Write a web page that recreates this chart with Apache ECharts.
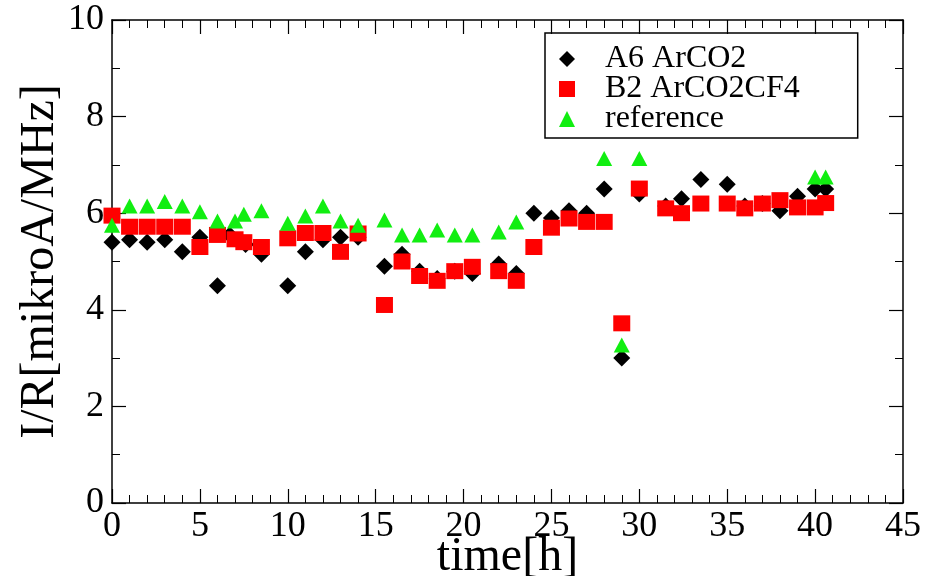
<!DOCTYPE html>
<html>
<head>
<meta charset="utf-8">
<script src="https://cdn.jsdelivr.net/npm/echarts@6/dist/echarts.min.js"></script>
<style>
html,body{margin:0;padding:0;background:#fff;}
#chart{width:937px;height:576px;}
</style>
</head>
<body>
<div id="chart"></div>
<script>
// ---- data ----
const seriesNames = ['A6 ArCO2', 'B2 ArCO2CF4', 'reference'];
const xTicks = [0, 5, 10, 15, 20, 25, 30, 35, 40, 45];
const yTicks = [0, 2, 4, 6, 8, 10];

const timeA6 = [0,1,2,3,4,5,6,6.7,7.6,8.5,10,11,12,13,14,15.5,16.5,17.5,18.5,19.5,20.5,22,23,24,25,26,27,28,29,30,31.5,32.4,33.5,35,36,37,38,39,40,40.6];
const valA6  = [5.4,5.45,5.4,5.45,5.2,5.5,4.5,5.55,5.35,5.15,4.5,5.2,5.45,5.5,5.5,4.9,5.15,4.8,4.65,4.8,4.75,4.95,4.75,6.0,5.9,6.05,6.0,6.5,3.0,6.4,6.15,6.3,6.7,6.6,6.15,6.2,6.05,6.35,6.5,6.5];

const timeB2 = [0,1,2,3,4,5,6,7,7.5,8.5,10,11,12,13,14,15.5,16.5,17.5,18.5,19.5,20.5,22,23,24,25,26,27,28,29,30,31.5,32.4,33.5,35,36,37,38,39,40,40.6];
const valB2  = [5.95,5.72,5.72,5.72,5.72,5.3,5.55,5.46,5.4,5.3,5.48,5.59,5.59,5.2,5.58,4.1,5.0,4.7,4.6,4.8,4.89,4.8,4.6,5.3,5.7,5.89,5.82,5.82,3.72,6.51,6.1,6.0,6.2,6.2,6.1,6.2,6.27,6.12,6.12,6.21];

const timeRef = [0,1,2,3,4,5,6,7,7.5,8.5,10,11,12,13,14,15.5,16.5,17.5,18.5,19.5,20.5,22,23,28,29,30,40,40.6];
const valRef  = [5.75,6.15,6.15,6.24,6.15,6.03,5.84,5.84,5.98,6.05,5.79,5.94,6.15,5.84,5.75,5.86,5.55,5.55,5.65,5.55,5.55,5.61,5.82,7.13,3.27,7.13,6.75,6.75];

const zip = (t, v) => t.map((x, i) => [x, v[i]]);

const FONT = "'Liberation Serif', 'DejaVu Serif', serif";
const axisLine = { lineStyle: { color: '#000', width: 1.5 } };
const tick = { show: true, inside: true, length: 14, lineStyle: { color: '#000', width: 1.2 } };

function xAxisCfg(pos, showLabel) {
  return {
    type: 'value', position: pos, min: 0, max: 45, interval: 5,
    axisLine: Object.assign({ onZero: false }, axisLine),
    axisTick: tick,
    minorTick: { show: true, splitNumber: 5, length: 8, lineStyle: { color: '#000', width: 1 } },
    splitLine: { show: false }, minorSplitLine: { show: false },
    axisLabel: { show: showLabel, fontSize: 36, fontFamily: FONT, color: '#000', margin: 6,
      formatter: v => (xTicks.indexOf(v) >= 0 ? String(v) : '') },
    name: showLabel ? 'time[h]' : '',
    nameLocation: 'middle', nameGap: 30, nameMoveOverlap: false,
    nameTextStyle: { fontSize: 48, fontFamily: FONT, color: '#000' }
  };
}
function yAxisCfg(pos, showLabel) {
  return {
    type: 'value', position: pos, min: 0, max: 10, interval: 2,
    axisLine: Object.assign({ onZero: false }, axisLine),
    axisTick: tick,
    minorTick: { show: true, splitNumber: 2, length: 8, lineStyle: { color: '#000', width: 1 } },
    splitLine: { show: false }, minorSplitLine: { show: false },
    axisLabel: { show: showLabel, fontSize: 36, fontFamily: FONT, color: '#000', margin: 8,
      formatter: v => (yTicks.indexOf(v) >= 0 ? String(v) : '') },
    name: showLabel ? 'I/R[mikroA/MHz]' : '',
    nameLocation: 'middle', nameGap: 48, nameMoveOverlap: false,
    nameTextStyle: { fontSize: 48, fontFamily: FONT, color: '#000' }
  };
}

const chart = echarts.init(document.getElementById('chart'), null, { renderer: 'canvas' });
chart.setOption({
  backgroundColor: '#fff',
  animation: false,
  grid: { left: 112, right: 34, top: 20, bottom: 73, containLabel: false, outerBoundsMode: 'none' },
  xAxis: [xAxisCfg('bottom', true), xAxisCfg('top', false)],
  yAxis: [yAxisCfg('left', true), yAxisCfg('right', false)],
  legend: {
    orient: 'vertical', left: 545, top: 33,
    itemGap: -2, itemWidth: 16, itemHeight: 16,
    padding: [10, 58, 3, 14],
    borderColor: '#000', borderWidth: 1.5, borderRadius: 0,
    textStyle: { fontSize: 32, fontFamily: FONT, color: '#000', padding: [0, 0, 0, 25] },
    data: [
      { name: seriesNames[0], icon: 'diamond' },
      { name: seriesNames[1], icon: 'rect' },
      { name: seriesNames[2], icon: 'triangle' }
    ]
  },
  series: [
    { name: seriesNames[0], type: 'scatter', symbol: 'diamond', symbolSize: [17, 17],
      itemStyle: { color: '#000', opacity: 1 }, data: zip(timeA6, valA6) },
    { name: seriesNames[1], type: 'scatter', symbol: 'rect', symbolSize: [17, 16],
      itemStyle: { color: '#ff0000', opacity: 1 }, data: zip(timeB2, valB2) },
    { name: seriesNames[2], type: 'scatter', symbol: 'triangle', symbolSize: [16, 15],
      itemStyle: { color: '#11ee11', opacity: 1 }, data: zip(timeRef, valRef) }
  ]
});
</script>
</body>
</html>
